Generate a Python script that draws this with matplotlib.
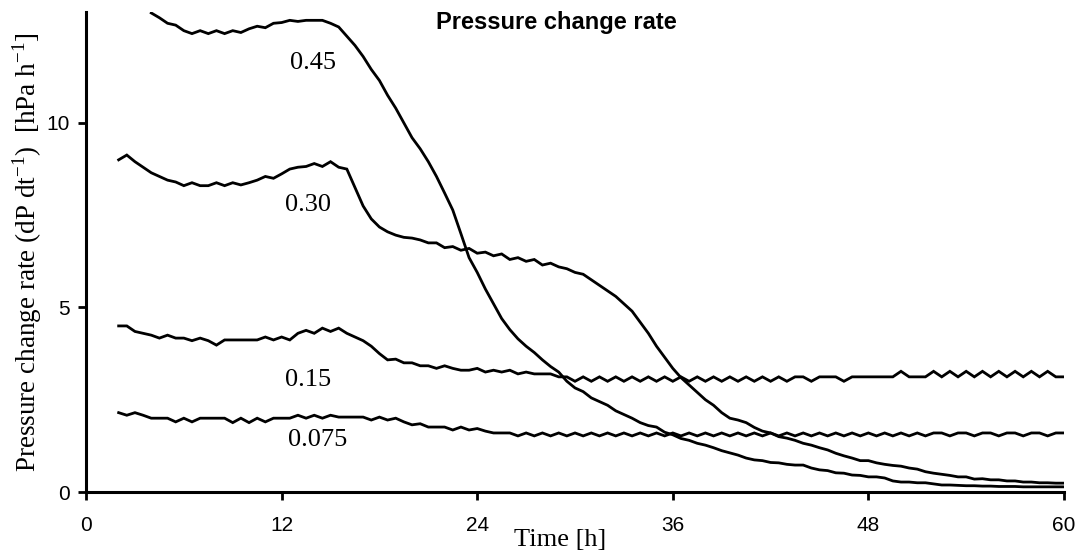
import numpy as np
import matplotlib
matplotlib.use("Agg")
import matplotlib.pyplot as plt

# pressure change rate (hPa/h), sampled every 0.5 h
rate_0075 = [2.15, 2.08, 2.15, 2.08, 2.0, 2.0, 2.0, 1.9, 2.0, 1.9,
             2.0, 2.0, 2.0, 2.0, 1.88, 2.0, 1.88, 2.0, 1.9, 2.0,
             2.0, 2.0, 2.08, 2.0, 2.08, 2.0, 2.08, 2.03, 2.03, 2.03,
             2.03, 1.95, 2.03, 1.95, 2.0, 1.9, 1.82, 1.85, 1.76, 1.76,
             1.76, 1.68, 1.76, 1.68, 1.72, 1.65, 1.6, 1.6, 1.6, 1.52,
             1.6, 1.52, 1.6, 1.52, 1.6, 1.52, 1.6, 1.52, 1.6, 1.52,
             1.6, 1.52, 1.6, 1.52, 1.6, 1.52, 1.6, 1.52, 1.6, 1.52,
             1.6, 1.52, 1.6, 1.52, 1.6, 1.52, 1.6, 1.52, 1.6, 1.52,
             1.6, 1.52, 1.6, 1.52, 1.6, 1.52, 1.6, 1.52, 1.6, 1.52,
             1.6, 1.52, 1.6, 1.52, 1.6, 1.52, 1.6, 1.52, 1.6, 1.52,
             1.6, 1.6, 1.52, 1.6, 1.6, 1.52, 1.6, 1.6, 1.52, 1.6,
             1.6, 1.52, 1.6, 1.6, 1.52, 1.6, 1.6]

rate_015 = [4.5, 4.5, 4.35, 4.3, 4.25, 4.17, 4.25, 4.17, 4.17, 4.1,
            4.17, 4.1, 3.98, 4.12, 4.12, 4.12, 4.12, 4.12, 4.2, 4.12,
            4.2, 4.12, 4.3, 4.38, 4.3, 4.44, 4.35, 4.44, 4.3, 4.2,
            4.1, 3.95, 3.75, 3.58, 3.6, 3.5, 3.5, 3.42, 3.42, 3.35,
            3.42, 3.35, 3.3, 3.3, 3.35, 3.25, 3.3, 3.25, 3.3, 3.2,
            3.25, 3.2, 3.2, 3.2, 3.12, 3.12, 3.0, 3.12, 3.0, 3.12,
            3.0, 3.12, 3.0, 3.12, 3.0, 3.12, 3.0, 3.12, 3.0, 3.12,
            3.0, 3.12, 3.0, 3.12, 3.0, 3.12, 3.0, 3.12, 3.0, 3.12,
            3.0, 3.12, 3.0, 3.12, 3.12, 3.0, 3.12, 3.12, 3.12, 3.0,
            3.12, 3.12, 3.12, 3.12, 3.12, 3.12, 3.27, 3.12, 3.12, 3.12,
            3.27, 3.12, 3.27, 3.12, 3.27, 3.12, 3.27, 3.12, 3.27, 3.12,
            3.27, 3.12, 3.27, 3.12, 3.27, 3.12, 3.12]

rate_030 = [9.0, 9.13, 8.95, 8.8, 8.65, 8.55, 8.45, 8.4, 8.3, 8.38,
            8.3, 8.3, 8.38, 8.3, 8.38, 8.32, 8.38, 8.45, 8.55, 8.5,
            8.62, 8.75, 8.8, 8.82, 8.9, 8.82, 8.95, 8.8, 8.75, 8.25,
            7.75, 7.4, 7.18, 7.05, 6.96, 6.9, 6.88, 6.83, 6.75, 6.75,
            6.62, 6.65, 6.55, 6.6, 6.47, 6.5, 6.4, 6.45, 6.3, 6.35,
            6.25, 6.3, 6.15, 6.2, 6.1, 6.05, 5.95, 5.9, 5.75, 5.6,
            5.45, 5.3, 5.1, 4.9, 4.6, 4.3, 3.95, 3.65, 3.35, 3.1,
            2.9, 2.7, 2.5, 2.35, 2.15, 2.0, 1.95, 1.88, 1.75, 1.65,
            1.6, 1.5, 1.46, 1.4, 1.32, 1.27, 1.2, 1.14, 1.05, 0.98,
            0.92, 0.85, 0.85, 0.79, 0.75, 0.72, 0.7, 0.65, 0.62, 0.55,
            0.51, 0.48, 0.45, 0.41, 0.41, 0.35, 0.36, 0.33, 0.33, 0.3,
            0.3, 0.27, 0.27, 0.25, 0.25, 0.24, 0.24]

rate_045 = [12.98, 12.85, 12.7, 12.65, 12.5, 12.42, 12.5, 12.42, 12.5, 12.42,
            12.5, 12.45, 12.55, 12.62, 12.58, 12.7, 12.72, 12.78, 12.75, 12.78,
            12.78, 12.78, 12.7, 12.6, 12.35, 12.1, 11.8, 11.45, 11.15, 10.75,
            10.4, 10.0, 9.6, 9.3, 8.95, 8.55, 8.1, 7.64, 7.0, 6.35,
            5.95, 5.5, 5.1, 4.7, 4.4, 4.15, 3.95, 3.78, 3.58, 3.4,
            3.25, 3.0, 2.82, 2.72, 2.55, 2.45, 2.35, 2.2, 2.1, 2.0,
            1.88, 1.8, 1.76, 1.62, 1.55, 1.45, 1.4, 1.32, 1.27, 1.2,
            1.12, 1.06, 1.0, 0.92, 0.87, 0.85, 0.8, 0.79, 0.75, 0.73,
            0.73, 0.65, 0.6, 0.58, 0.52, 0.51, 0.46, 0.45, 0.41, 0.41,
            0.38, 0.3, 0.27, 0.27, 0.25, 0.25, 0.22, 0.19, 0.19, 0.18,
            0.17, 0.17, 0.16, 0.16, 0.15, 0.15, 0.15, 0.14, 0.14, 0.14,
            0.14, 0.14, 0.14]

series = [(2.0, rate_0075, "0.075", (14.2, 1.4)),
          (2.0, rate_015, "0.15", (13.6, 3.03)),
          (2.0, rate_030, "0.30", (13.6, 7.78)),
          (4.0, rate_045, "0.45", (13.9, 11.63))]

xticks = [0, 12, 24, 36, 48, 60]
yticks = [0, 5, 10]

serif = "Liberation Serif"
sans = "Liberation Sans"

plt.rcParams["mathtext.fontset"] = "custom"
plt.rcParams["mathtext.rm"] = serif

fig = plt.figure(figsize=(10.77, 5.55), dpi=100)
ax = fig.add_axes([0.0799, 0.1135, 0.908, 0.8645])

for t0, vals, name, (lx, ly) in series:
    t = t0 + 0.5 * np.arange(len(vals))
    ax.plot(t, vals, color="black", lw=2.0, solid_joinstyle="miter")
    ax.text(lx, ly, name, ha="center", va="center", fontsize=19, family=serif)

ax.set_xlim(0, 60)
ax.set_ylim(0, 13)
ax.set_xticks(xticks)
ax.set_yticks(yticks)
for lab in ax.get_xticklabels() + ax.get_yticklabels():
    lab.set_family(sans)
    lab.set_fontsize(15)

ax.spines["top"].set_visible(False)
ax.spines["right"].set_visible(False)
for side in ("left", "bottom"):
    ax.spines[side].set_linewidth(2.2)
ax.tick_params(direction="out", length=6, width=2, pad=6)
ax.tick_params(axis="x", pad=11)

fig.text(556 / 1077, 1 - 11 / 555, "Pressure change rate", ha="center", va="top",
         fontsize=17, fontweight="bold", family=sans)

fig.text(560 / 1077, 1 - 540 / 555, "Time [h]", ha="center", va="center",
         fontsize=19, family=serif)
fig.text(27 / 1077, 1 - 252 / 555,
         r"Pressure change rate (dP dt$^{\mathrm{-1}}$)  [hPa h$^{\mathrm{-1}}$]",
         rotation=90, ha="center", va="center", fontsize=19.5, family=serif)

fig.savefig("out.png", dpi=100)
